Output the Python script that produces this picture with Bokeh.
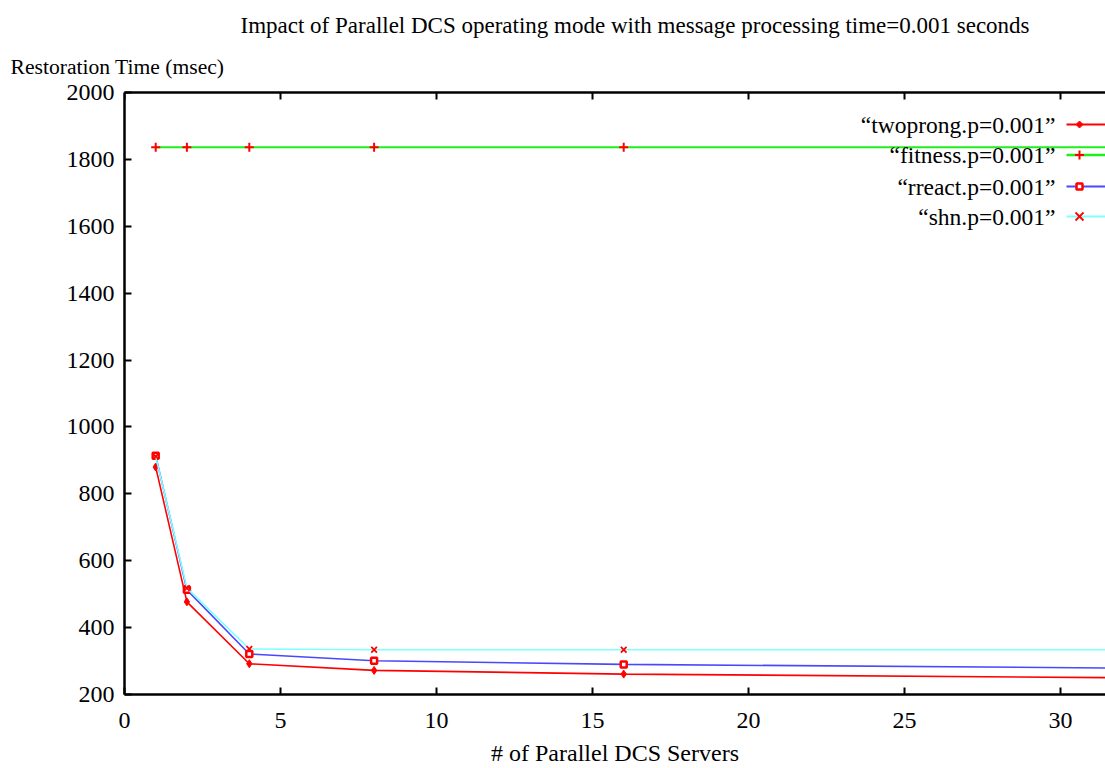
from bokeh.plotting import figure
from bokeh.models import Range1d, LinearAxis, Label, FixedTicker, Arrow, PolyAnnotation, Title
from bokeh.embed import file_html
from bokeh.resources import INLINE

# ---- data ----
servers = [1, 2, 4, 8, 16, 32]
series_names = ["“twoprong.p=0.001”", "“fitness.p=0.001”", "“rreact.p=0.001”", "“shn.p=0.001”"]
twoprong = [880, 477, 292, 272, 261, 250]
fitness = [1836, 1836, 1836, 1836, 1836, 1836]
rreact = [914, 513, 321, 301, 290, 279]
shn = [912, 518, 336, 334, 334, 334]
x_ticks = [0, 5, 10, 15, 20, 25, 30]
y_ticks = [200, 400, 600, 800, 1000, 1200, 1400, 1600, 1800, 2000]
title_text = "Impact of Parallel DCS operating mode with message processing time=0.001 seconds"
x_label = "# of Parallel DCS Servers"
y_label = "Restoration Time (msec)"

FONT = "Liberation Serif"

W, H = 1105, 768
BL, BT = 124, 92
FRAME_H = 603
FRAME_W = W - BL

p = figure(width=W, height=H, output_backend="svg", toolbar_location=None,
           x_range=Range1d(0, FRAME_W / 31.2), y_range=Range1d(200, 2000),
           min_border_left=BL, min_border_right=0, min_border_top=BT,
           min_border_bottom=H - BT - FRAME_H)
p.outline_line_color = None
p.xgrid.visible = False
p.ygrid.visible = False
p.background_fill_color = "white"
p.border_fill_color = "white"

def style_axis(ax):
    ax.axis_line_width = 2.5
    ax.axis_line_color = "black"
    ax.major_tick_in = 7
    ax.major_tick_out = 0
    ax.major_tick_line_width = 2
    ax.minor_tick_line_color = None
    ax.major_label_text_font = FONT
    ax.major_label_text_font_size = "24px"
    ax.major_label_text_color = "black"
    ax.axis_label_text_font = FONT
    ax.axis_label_text_font_size = "24px"
    ax.axis_label_text_font_style = "normal"
    ax.axis_label_text_color = "black"

p.xaxis.ticker = FixedTicker(ticks=x_ticks)
p.yaxis.ticker = FixedTicker(ticks=y_ticks)
style_axis(p.xaxis[0])
style_axis(p.yaxis[0])
p.xaxis.major_label_standoff = 18
p.xaxis.axis_label = x_label
p.xaxis.axis_label_standoff = 9
p.yaxis.major_label_standoff = 10

# top border (no ticks/labels) + inward tick marks drawn at the top range
top_axis = LinearAxis(ticker=FixedTicker(ticks=[]))
top_axis.axis_line_width = 2.5
top_axis.minor_tick_line_color = None
top_axis.major_tick_line_color = None
top_axis.major_tick_in = 0
top_axis.major_tick_out = 7
top_axis.major_label_standoff = 0
p.add_layout(top_axis, "above")
p.scatter(x_ticks, [y_ticks[-1]] * len(x_ticks), marker="dash", angle=1.5708,
          size=14, line_color="black", line_width=2)

p.add_layout(Title(text=y_label, align="left", offset=-114, text_font=FONT,
                   text_font_size="21.6px", text_font_style="normal",
                   text_color="black", standoff=27), "above")
p.add_layout(Title(text=title_text, align="left", offset=116, text_font=FONT,
                   text_font_size="23px", text_font_style="normal",
                   text_color="black", standoff=3), "above")

# ---- series ----
line_colors = ["#ff0000", "#1ef01e", "#4848ff", "#80ffff"]
line_widths = [1.6, 2.0, 1.6, 1.6]
values = [twoprong, fitness, rreact, shn]
markers = ["diamond", "cross", "square", "x"]
for vals, col, lw, mk in zip(values, line_colors, line_widths, markers):
    p.line(servers, vals, line_color=col, line_width=lw)
    if mk == "diamond":
        p.scatter(servers, vals, marker="diamond", size=8, fill_color="#ff0000",
                  line_color="#ff0000", line_width=1)
    elif mk == "cross":
        p.scatter(servers, vals, marker="cross", size=9, line_color="#ff0000", line_width=2)
    elif mk == "square":
        p.scatter(servers, vals, marker="square", size=6, fill_color="white",
                  line_color="#ff0000", line_width=2.5)
    else:
        p.scatter(servers, vals, marker="x", size=8, line_color="#ff0000", line_width=1.8)

# ---- legend (gnuplot style: text left, sample right) ----
legend_y = [FRAME_H - 33, FRAME_H - 63.5, FRAME_H - 95, FRAME_H - 125]
text_x, line_x0, mark_x = 931, 942, 955
for name, ly, col, lw, mk in zip(series_names, legend_y, line_colors, line_widths, markers):
    p.add_layout(Label(x=text_x, y=ly, x_units="screen", y_units="screen", text=name,
                       text_align="right", text_baseline="middle",
                       text_font=FONT, text_font_size="23.5px", text_color="black"))
    p.add_layout(Arrow(end=None, x_start=line_x0, y_start=ly, x_end=FRAME_W + 10, y_end=ly,
                       start_units="screen", end_units="screen",
                       line_color=col, line_width=lw + 0.3))
    r = 3.5
    if mk == "diamond":
        p.add_layout(PolyAnnotation(xs=[mark_x - r, mark_x, mark_x + r, mark_x],
                                    ys=[ly, ly + r, ly, ly - r],
                                    xs_units="screen", ys_units="screen",
                                    fill_color="#ff0000", fill_alpha=1,
                                    line_color="#ff0000", line_alpha=1, line_width=1))
    elif mk == "square":
        p.add_layout(PolyAnnotation(xs=[mark_x - 3, mark_x + 3, mark_x + 3, mark_x - 3],
                                    ys=[ly - 3, ly - 3, ly + 3, ly + 3],
                                    xs_units="screen", ys_units="screen",
                                    fill_color="white", fill_alpha=1,
                                    line_color="#ff0000", line_alpha=1, line_width=2.5))
    elif mk == "cross":
        for (a, b, c, d) in [(mark_x - 4.5, ly, mark_x + 4.5, ly), (mark_x, ly - 4.5, mark_x, ly + 4.5)]:
            p.add_layout(Arrow(end=None, x_start=a, y_start=b, x_end=c, y_end=d,
                               start_units="screen", end_units="screen",
                               line_color="#ff0000", line_width=2))
    else:
        for (a, b, c, d) in [(mark_x - 4, ly - 4, mark_x + 4, ly + 4), (mark_x - 4, ly + 4, mark_x + 4, ly - 4)]:
            p.add_layout(Arrow(end=None, x_start=a, y_start=b, x_end=c, y_end=d,
                               start_units="screen", end_units="screen",
                               line_color="#ff0000", line_width=1.8))

open("out.html", "w").write(file_html(p, INLINE))
